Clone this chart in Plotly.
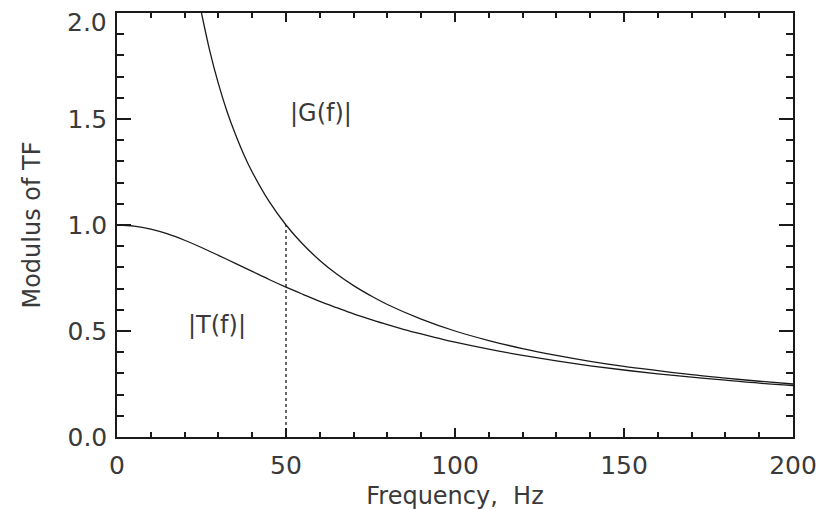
import plotly.graph_objects as go

# |T(f)|
freq_t = [0, 5, 10, 15, 20, 25, 30, 35, 40, 45, 50, 55, 60, 65, 70, 75, 80, 85, 90, 95,
          100, 110, 120, 130, 140, 150, 160, 170, 180, 190, 200]
t_mod = [1.000, 0.995, 0.981, 0.958, 0.928, 0.894, 0.857, 0.819, 0.781, 0.743, 0.707,
         0.673, 0.640, 0.610, 0.581, 0.555, 0.530, 0.507, 0.486, 0.466,
         0.447, 0.414, 0.385, 0.359, 0.336, 0.316, 0.298, 0.282, 0.268, 0.254, 0.243]

# |G(f)|
freq_g = [25, 27.5, 30, 32.5, 35, 37.5, 40, 45, 50, 55, 60, 65, 70, 75, 80, 90,
          100, 110, 120, 130, 140, 150, 160, 170, 180, 190, 200]
g_mod = [2.000, 1.818, 1.667, 1.538, 1.429, 1.333, 1.250, 1.111, 1.000, 0.909, 0.833,
         0.769, 0.714, 0.667, 0.625, 0.556, 0.500, 0.455, 0.417, 0.385, 0.357,
         0.333, 0.313, 0.294, 0.278, 0.263, 0.250]

# dotted marker at f = 50 Hz
cut_x = [50, 50]
cut_y = [0.0, 1.0]

x_ticks = [0, 50, 100, 150, 200]
y_ticks = [0.0, 0.5, 1.0, 1.5, 2.0]
y_top = y_ticks[-1]

ink = "#1a1a1a"
txt = "#3a3a3a"
font_family = "DejaVu Sans"

fig = go.Figure()
fig.add_trace(go.Scatter(x=freq_t, y=t_mod, mode="lines", line=dict(color=ink, width=1.3, shape="spline"),
                         showlegend=False, hoverinfo="skip"))
fig.add_trace(go.Scatter(x=freq_g, y=g_mod, mode="lines", line=dict(color=ink, width=1.3, shape="spline"),
                         showlegend=False, hoverinfo="skip"))
fig.add_trace(go.Scatter(x=cut_x, y=cut_y, mode="lines", line=dict(color=ink, width=1.3, dash="dot"),
                         showlegend=False, hoverinfo="skip"))

fig.add_annotation(x=60.4, y=1.53, text="|G(f)|", showarrow=False,
                   font=dict(family=font_family, size=24, color=txt))
fig.add_annotation(x=29.7, y=0.53, text="|T(f)|", showarrow=False,
                   font=dict(family=font_family, size=24, color=txt))
# top y tick label (IDL nudges it inside the window; plotly would drop it at the edge)
fig.add_annotation(x=0, y=y_top, xref="x", yref="y", text="%.1f" % y_top, showarrow=False,
                   xanchor="right", yanchor="middle", xshift=-8, yshift=-9,
                   font=dict(family=font_family, size=25, color=txt))

fig.update_layout(
    width=826, height=510,
    margin=dict(l=117, r=33, t=13, b=73),
    paper_bgcolor="white", plot_bgcolor="white",
    font=dict(family=font_family, size=25, color=txt),
    xaxis=dict(range=[0, 200], tickvals=x_ticks, ticktext=[str(v) for v in x_ticks],
               automargin=False,
               showgrid=False, zeroline=False, showline=True, linecolor=ink, linewidth=1.5,
               mirror="ticks", ticks="inside", ticklen=9, tickwidth=1.5, tickcolor=ink,
               minor=dict(dtick=10, ticks="inside", ticklen=5, tickwidth=1.5, tickcolor=ink, showgrid=False),
               ticklabelstandoff=5,
               title=dict(text="Frequency,  Hz", standoff=9, font=dict(size=24))),
    yaxis=dict(range=[0, 2.0], tickvals=y_ticks,
               ticktext=["%.1f" % v for v in y_ticks[:-1]] + [""],
               automargin=False,
               showgrid=False, zeroline=False, showline=True, linecolor=ink, linewidth=1.5,
               mirror="ticks", ticks="inside", ticklen=14, tickwidth=1.5, tickcolor=ink,
               minor=dict(dtick=0.1, ticks="inside", ticklen=7, tickwidth=1.5, tickcolor=ink, showgrid=False),
               ticklabelstandoff=3,
               title=dict(text="Modulus of TF", standoff=20, font=dict(size=24))),
)

fig.write_html("out.html", config={"displayModeBar": False},
               post_script="document.body.style.margin='0px';")
